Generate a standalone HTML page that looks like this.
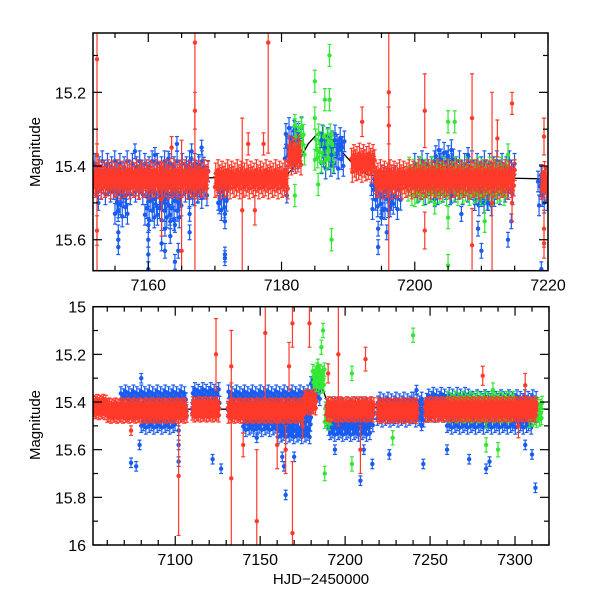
<!DOCTYPE html>
<html><head><meta charset="utf-8"><style>
html,body{margin:0;padding:0;background:#fff;}
svg{display:block;font-family:"Liberation Sans",sans-serif;}
</style></head><body>
<svg id="chart" width="600" height="600" viewBox="0 0 600 600" xmlns="http://www.w3.org/2000/svg">
<rect width="600" height="600" fill="#fff"/>
<g id="top"></g>
<g id="bot"></g>
<text x="40" y="152" font-size="15" text-anchor="middle" transform="rotate(-90 40 152)">Magnitude</text>
<text x="40" y="425" font-size="15" text-anchor="middle" transform="rotate(-90 40 425)">Magnitude</text>
<text x="321" y="584" font-size="15" text-anchor="middle">HJD−2450000</text>
</svg>
<script>
// ---- data: top panel ----
const topRedBandX0 = [7151.7, 7170.0, 7181.0, 7190.5, 7194.0, 7219.0];
const topRedBandX1 = [7169.0, 7181.0, 7183.0, 7194.0, 7215.0, 7220.0];
const topRedBandMag = [15.435, 15.435, 15.37, 15.39, 15.435, 15.44];
const topBlueBandX0 = [7152.0, 7155.0, 7159.5, 7166.0, 7170.5, 7180.5, 7186.0, 7193.5, 7200.0, 7203.0, 7209.0, 7218.5];
const topBlueBandX1 = [7168.5, 7157.0, 7165.0, 7169.0, 7172.0, 7183.0, 7189.5, 7198.0, 7215.0, 7206.0, 7212.0, 7220.0];
const topBlueBandMag = [15.43, 15.49, 15.50, 15.44, 15.48, 15.34, 15.36, 15.47, 15.43, 15.40, 15.46, 15.46];
const topGreenBandX0 = [7182.0, 7185.0, 7199.0];
const topGreenBandX1 = [7183.5, 7188.0, 7214.0];
const topGreenBandMag = [15.33, 15.35, 15.44];
const topRedX = [7152.3,7152.3,7152.3,7165.0,7167.0,7167.0,7174.1,7175.0,7178.0,7177.3,7196.1,7196.1,7192.1,7201.5,7201.5,7208.6,7208.6,7212.4,7211.6,7214.6,7214.6,7219.4,7219.4,7219.4,7163.5,7162.0,7176.0];
const topRedY = [15.11,15.575,15.37,15.63,15.065,15.25,15.52,15.34,15.065,15.34,15.20,15.29,15.28,15.25,15.575,15.27,15.615,15.325,15.50,15.23,15.50,15.32,15.57,15.61,15.35,15.49,15.52];
const topRedE = [0.6,0.04,0.03,0.3,0.7,0.05,0.25,0.03,0.3,0.03,0.5,0.05,0.04,0.1,0.05,0.12,0.1,0.05,0.3,0.03,0.05,0.05,0.05,0.04,0.03,0.1,0.04];
const topBlueX = [7152.5,7155.5,7155.5,7155.5,7155.5,7160,7160,7160,7160,7162,7162.5,7162.5,7162.5,7163.3,7163.3,7164,7164,7164.5,7164.5,7166.2,7166.2,7168,7170.5,7171.5,7171.5,7171.5,7171.5,7180.8,7181.5,7182,7182.5,7186,7186.5,7187.5,7188,7188.5,7189,7194.5,7194.5,7195.2,7195.8,7196.5,7209.5,7210,7214,7214.5,7219,7219,7203,7205.5,7207,7211,7158,7161,7163,7164.3,7166.5,7195,7196,7208];
const topBlueY = [15.5,15.52,15.58,15.6,15.62,15.56,15.6,15.64,15.68,15.61,15.5,15.57,15.63,15.55,15.59,15.56,15.66,15.5,15.63,15.53,15.58,15.35,15.5,15.53,15.55,15.64,15.65,15.48,15.35,15.3,15.33,15.33,15.35,15.37,15.33,15.35,15.34,15.57,15.62,15.52,15.58,15.5,15.57,15.63,15.6,15.55,15.47,15.68,15.49,15.48,15.53,15.5,15.36,15.37,15.38,15.34,15.36,15.54,15.52,15.37];
const topGreenX = [7182,7182,7185,7185,7185.5,7186.5,7187.2,7187.2,7187.5,7205,7205,7205,7206,7200,7203,7214,7210.5];
const topGreenY = [15.29,15.48,15.17,15.27,15.45,15.22,15.10,15.22,15.60,15.28,15.54,15.67,15.28,15.48,15.50,15.37,15.55];
const topModelX = [7151.7,7179.5,7181,7182.5,7184,7185.5,7187,7189,7191,7193,7220];
const topModelY = [15.435,15.43,15.42,15.39,15.34,15.31,15.32,15.36,15.40,15.425,15.435];
// ---- data: bottom panel ----
const botRedBandX0 = [7052,7060,7110,7131,7176,7189,7219,7247];
const botRedBandX1 = [7060,7107,7126,7176,7183,7217,7243,7313];
const botRedBandMag = [15.42,15.435,15.43,15.435,15.40,15.43,15.435,15.43];
const botBlueBandX0 = [7068,7110,7131,7180,7189,7219,7240,7248,7275,7080,7140,7160,7190,7260];
const botBlueBandX1 = [7107,7126,7180,7186,7217,7240,7247,7275,7313,7100,7170,7180,7215,7310];
const botBlueBandMag = [15.40,15.39,15.40,15.34,15.45,15.43,15.43,15.41,15.42,15.46,15.47,15.50,15.49,15.46];
const botGreenBandX0 = [7181,7188,7260,7308];
const botGreenBandX1 = [7188,7192,7300,7316];
const botGreenBandMag = [15.30,15.45,15.42,15.44];
const botRedX = [7074,7102,7124,7133,7133,7153,7148,7169,7169,7165,7167,7179,7196,7212,7209,7190,7281,7306,7302,7160,7140,7175];
const botRedY = [15.52,15.71,15.20,15.25,15.72,15.11,15.90,15.07,15.95,15.60,15.25,15.07,15.20,15.22,15.60,15.28,15.29,15.33,15.50,15.58,15.58,15.50];
const botRedE = [0.02,0.25,0.15,0.15,0.4,0.3,0.3,0.1,0.3,0.1,0.1,0.1,0.3,0.05,0.1,0.04,0.04,0.05,0.05,0.1,0.05,0.05];
const botBlueX = [7074,7077,7079,7080,7102,7102,7102,7122,7127,7146,7148,7163,7164,7165,7170,7194,7209,7211,7216,7226,7246,7260,7273,7283,7285,7312,7306,7310,7245,7242];
const botBlueY = [15.655,15.67,15.58,15.30,15.52,15.58,15.65,15.64,15.68,15.50,15.55,15.63,15.67,15.79,15.63,15.60,15.73,15.60,15.66,15.62,15.66,15.60,15.64,15.68,15.65,15.76,15.58,15.62,15.50,15.35];
const botGreenX = [7187,7186,7188,7240,7184,7185,7204,7204,7283,7283,7287,7290,7228];
const botGreenY = [15.10,15.17,15.70,15.12,15.25,15.28,15.28,15.66,15.48,15.58,15.35,15.60,15.55];
const botModelX = [7052,7178,7181,7183,7185,7187,7189,7191,7320];
const botModelY = [15.43,15.43,15.40,15.36,15.33,15.35,15.39,15.42,15.43];
const jitter = [-0.02,0.012,-0.006,0.022,-0.015,0.004,0.018,-0.024,0.008,-0.01,0.026,-0.003];

const NS="http://www.w3.org/2000/svg";
const COL={red:"#ff3a2a",blue:"#1a5cf0",green:"#33e833"};
function mk(parent,tag,attrs){const e=document.createElementNS(NS,tag);for(const k in attrs)e.setAttribute(k,attrs[k]);parent.appendChild(e);return e;}

function panel(g,cfg){
  const {L,R,T,B,x0,x1,y0,y1}=cfg;
  const sx=v=>L+(v-x0)/(x1-x0)*(R-L);
  const sy=v=>T+(v-y0)/(y1-y0)*(B-T);
  const clip="clip"+cfg.id;
  const defs=mk(g,"defs",{});
  const cp=mk(defs,"clipPath",{id:clip});mk(cp,"rect",{x:L,y:T,width:R-L,height:B-T});
  const plot=mk(g,"g",{"clip-path":`url(#${clip})`});
  
  
  const model=mk(plot,"polyline",{points:cfg.model[0].map((x,i)=>sx(x)+","+sy(cfg.model[1][i])).join(" "),fill:"none",stroke:"#000","stroke-width":1.3});
  
  
  function pt(x,y,e,c,name){
    const grp=mk(plot,"g",{});
    
    
    const X=sx(x),Y=sy(y),ya=sy(y-e),yb=sy(y+e);
    mk(grp,"line",{x1:X,x2:X,y1:ya,y2:yb,stroke:c,"stroke-width":1.2});
    mk(grp,"line",{x1:X-2,x2:X+2,y1:ya,y2:ya,stroke:c,"stroke-width":1.2});
    mk(grp,"line",{x1:X-2,x2:X+2,y1:yb,y2:yb,stroke:c,"stroke-width":1.2});
    mk(grp,"circle",{cx:X,cy:Y,r:2.2,fill:c});
  }
  function band(x0a,x1a,mags,c,step,amp,name){
    for(let i=0;i<x0a.length;i++){
      let k=i*3;
      for(let x=x0a[i];x<=x1a[i];x+=step){pt(x,mags[i]+amp*jitter[k%jitter.length],0.028,c,name);k++;}
    }
  }
  band(cfg.blueBand[0],cfg.blueBand[1],cfg.blueBand[2],COL.blue,cfg.step*1.3,1.8,'blue-band-point');
  band(cfg.greenBand[0],cfg.greenBand[1],cfg.greenBand[2],COL.green,cfg.step*1.2,1.5,'green-band-point');
  cfg.blue[0].forEach((x,i)=>pt(x,cfg.blue[1][i],0.02,COL.blue,'blue-point'));
  cfg.green[0].forEach((x,i)=>pt(x,cfg.green[1][i],0.03,COL.green,'green-point'));
  band(cfg.redBand[0],cfg.redBand[1],cfg.redBand[2],COL.red,cfg.step,1,'red-band-point');
  cfg.red[0].forEach((x,i)=>pt(x,cfg.red[1][i],cfg.red[2][i],COL.red,'red-point'));
  const fr=mk(g,"rect",{x:L,y:T,width:R-L,height:B-T,fill:"none",stroke:"#000","stroke-width":1.5});
  
  
  for(let v=Math.ceil(x0/cfg.xmin)*cfg.xmin;v<=x1+1e-6;v+=cfg.xmin){
    const X=sx(v);const maj=Math.abs(v/cfg.xmaj-Math.round(v/cfg.xmaj))<1e-6;const len=maj?9:5;
    mk(g,"line",{x1:X,x2:X,y1:B,y2:B-len,stroke:"#000","stroke-width":1.2});
    mk(g,"line",{x1:X,x2:X,y1:T,y2:T+len,stroke:"#000","stroke-width":1.2});
    if(maj){const t=mk(g,"text",{x:X,y:B+20,"font-size":16,"text-anchor":"middle"});t.textContent=Math.round(v);
      
      }
  }
  for(let v=Math.ceil(y0/cfg.ymin-1e-6)*cfg.ymin;v<=y1+1e-6;v+=cfg.ymin){
    const Y=sy(v);const maj=Math.abs(v/cfg.ymaj-Math.round(v/cfg.ymaj))<1e-6;const len=maj?9:5;
    mk(g,"line",{x1:L,x2:L+len,y1:Y,y2:Y,stroke:"#000","stroke-width":1.2});
    mk(g,"line",{x1:R,x2:R-len,y1:Y,y2:Y,stroke:"#000","stroke-width":1.2});
    if(maj){const t=mk(g,"text",{x:L-7,y:Y+6,"font-size":16,"text-anchor":"end"});
      t.textContent=(Math.round(v*10)/10).toString();
      
      }
  }
}
panel(document.getElementById("top"),{id:"t",L:93,R:548,T:33,B:270.7,x0:7151.7,x1:7220,y0:15.039,y1:15.684,
  xmin:5,xmaj:20,ymin:0.1,ymaj:0.2,step:0.12,
  redBand:[topRedBandX0,topRedBandX1,topRedBandMag],blueBand:[topBlueBandX0,topBlueBandX1,topBlueBandMag],
  greenBand:[topGreenBandX0,topGreenBandX1,topGreenBandMag],
  red:[topRedX,topRedY,topRedE],blue:[topBlueX,topBlueY],green:[topGreenX,topGreenY],model:[topModelX,topModelY]});
panel(document.getElementById("bot"),{id:"b",L:93,R:549,T:306.7,B:545,x0:7051.6,x1:7320,y0:15,y1:16,
  xmin:10,xmaj:50,ymin:0.1,ymaj:0.2,step:0.3,
  redBand:[botRedBandX0,botRedBandX1,botRedBandMag],blueBand:[botBlueBandX0,botBlueBandX1,botBlueBandMag],
  greenBand:[botGreenBandX0,botGreenBandX1,botGreenBandMag],
  red:[botRedX,botRedY,botRedE],blue:[botBlueX,botBlueY],green:[botGreenX,botGreenY],model:[botModelX,botModelY]});
</script>
</body></html>
